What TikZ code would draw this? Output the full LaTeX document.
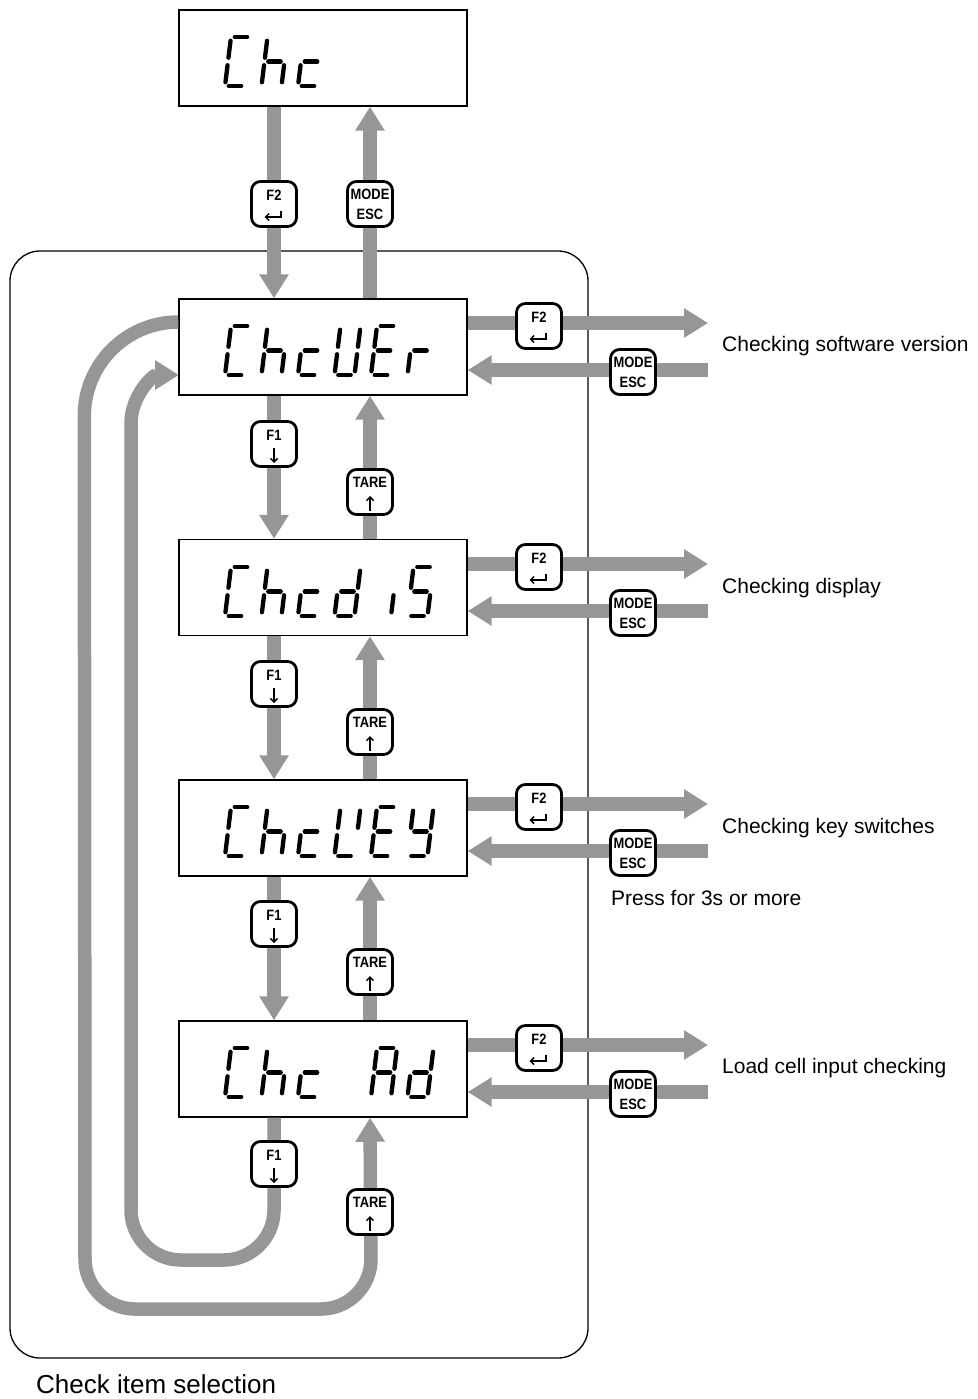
\documentclass[tikz,border=0pt]{standalone}
\usepackage{fontspec}
\setmainfont{Liberation Sans}
\usetikzlibrary{arrows.meta}
\definecolor{agray}{RGB}{150,150,150}
\tikzset{
  band/.style={draw=agray, line width=13.5pt},
  garrow/.style={band, -{Triangle[length=24pt,width=28pt]}},
  lcd/.style={draw=black, line width=1.4pt, fill=white, minimum width=288pt, minimum height=96pt, inner sep=0pt},
  keybox/.style={draw=black, line width=2.8pt, fill=white, rounded corners=9pt, minimum width=45pt, minimum height=45pt, inner sep=0pt},
  keytxt/.style={font=\fontsize{15}{15}\selectfont\bfseries, inner sep=0pt},
  keysym/.style={line width=1.5pt, -{Straight Barb[length=3.5pt,width=7pt]}},
  seg/.style={line width=4.3pt, line cap=round, shorten <=3.8pt, shorten >=3.8pt},
  lbl/.style={font=\fontsize{21}{25}\selectfont, anchor=base west, inner sep=0pt},
  sga/.style={insert path={(0,2)--(1,2)}},
  sgb/.style={insert path={(1,2)--(1,1)}},
  sgc/.style={insert path={(1,1)--(1,0)}},
  sgd/.style={insert path={(0,0)--(1,0)}},
  sge/.style={insert path={(0,0)--(0,1)}},
  sgf/.style={insert path={(0,1)--(0,2)}},
  sgg/.style={insert path={(0,1)--(1,1)}},
}
% seven-segment character: x of bottom-left, y of bottom (image coords), list of segments
\newcommand\lcdchar[3]{%
  \begin{scope}[shift={(#1,#2)},x={(20pt,0pt)},y={(3pt,24.5pt)}]
    \foreach \s in {#3}{\draw[seg,sg\s];}
  \end{scope}}
\newcommand\kt[1]{\scalebox{0.86}[1]{#1}}
\newcommand\keyEnter[2]{%
  \node[keybox] (#1) at (#2) {};
  \node[keytxt] (#1t) at ([yshift=8.5pt]#1.center) {\kt{F2}};
  \draw[keysym] ([shift={(7pt,-6.5pt)}]#1.center) -- ([shift={(7pt,-13pt)}]#1.center) -- ([shift={(-9.5pt,-13pt)}]#1.center);}
\newcommand\keyDown[2]{%
  \node[keybox] (#1) at (#2) {};
  \node[keytxt] (#1t) at ([yshift=9pt]#1.center) {\kt{F1}};
  \draw[keysym] ([yshift=-4pt]#1.center) -- ([yshift=-19pt]#1.center);}
\newcommand\keyUp[2]{%
  \node[keybox] (#1) at (#2) {};
  \node[keytxt] (#1t) at ([yshift=10pt]#1.center) {\kt{TARE}};
  \draw[keysym] ([yshift=-19pt]#1.center) -- ([yshift=-4pt]#1.center);}
\newcommand\keyMode[2]{%
  \node[keybox] (#1) at (#2) {};
  \node[keytxt] (#1t) at ([yshift=9.5pt]#1.center) {\kt{MODE}};
  \node[keytxt] (#1b) at ([yshift=-10pt]#1.center) {\kt{ESC}};}
\begin{document}
\begin{tikzpicture}[x=1pt,y=-1pt]
\useasboundingbox (0,0) rectangle (977,1399);
% frame
\node[draw=black, line width=1.3pt, rounded corners=30pt, minimum width=578pt, minimum height=1107pt, inner sep=0pt] (frame) at (299,804.5) {};
% display boxes
\node[lcd] (b0) at (323,58) {};
\node[lcd] (b1) at (323,347) {};
\node[lcd] (b2) at (323,587.5) {};
\node[lcd] (b3) at (323,828) {};
\node[lcd] (b4) at (323,1069) {};
\coordinate (lx) at (274,0);
\coordinate (rx) at (370,0);
% vertical arrows
\draw[garrow] (b0.south -| lx) -- (b1.north -| lx);
\draw[garrow] (b1.north -| rx) -- (b0.south -| rx);
\draw[garrow] (b1.south -| lx) -- (b2.north -| lx);
\draw[garrow] (b2.north -| rx) -- (b1.south -| rx);
\draw[garrow] (b2.south -| lx) -- (b3.north -| lx);
\draw[garrow] (b3.north -| rx) -- (b2.south -| rx);
\draw[garrow] (b3.south -| lx) -- (b4.north -| lx);
\draw[garrow] (b4.north -| rx) -- (b3.south -| rx);
% horizontal arrows
\coordinate (o1) at (708,323);  \coordinate (i1) at (708,370);
\coordinate (o2) at (708,564);  \coordinate (i2) at (708,611);
\coordinate (o3) at (708,804);  \coordinate (i3) at (708,851);
\coordinate (o4) at (708,1045); \coordinate (i4) at (708,1092);
\foreach \k in {1,2,3,4}{
  \draw[garrow] (b\k.east |- o\k) -- (o\k);
  \draw[garrow] (i\k) -- (b\k.east |- i\k);
}
% outer loop (TARE from ChcUEr wraps to Chc Ad)
\draw[garrow] ([yshift=25pt]b1.west) arc[start angle=90,end angle=180,radius=94pt]
  -- (85,1259) arc[start angle=180,end angle=270,radius=50pt]
  -- (321,1309) arc[start angle=270,end angle=360,radius=50pt]
  -- (b4.south -| rx);
% inner loop (F1 from Chc Ad wraps to ChcUEr)
\draw[garrow] (b4.south -| lx) -- (274,1210) arc[start angle=0,end angle=-90,radius=50pt]
  -- (181,1260) arc[start angle=270,end angle=180,radius=50pt]
  -- (131,423) arc[start angle=180,end angle=90,radius=48pt];
% keys
\keyEnter{k0a}{274,204}
\keyMode{k0b}{370,204}
\keyDown{d1}{274,444}  \keyUp{u1}{370,492}
\keyDown{d2}{274,684}  \keyUp{u2}{370,732}
\keyDown{d3}{274,924}  \keyUp{u3}{370,972}
\keyDown{d4}{274,1164} \keyUp{u4}{370,1212}
\keyEnter{e1}{539,326}  \keyMode{m1}{633,372}
\keyEnter{e2}{539,567}  \keyMode{m2}{633,613}
\keyEnter{e3}{539,807}  \keyMode{m3}{633,853}
\keyEnter{e4}{539,1048} \keyMode{m4}{633,1094}
% seven-segment texts
% Chc
\lcdchar{225}{86}{a,f,e,d}
\lcdchar{261.5}{86}{f,e,g,c}
\lcdchar{298}{86}{g,e,d}
% ChcUEr
\lcdchar{225}{375}{a,f,e,d}
\lcdchar{261.5}{375}{f,e,g,c}
\lcdchar{298}{375}{g,e,d}
\lcdchar{334.5}{375}{f,e,d,c,b}
\lcdchar{371}{375}{a,f,g,e,d}
\lcdchar{407.5}{375}{e,g}
% ChcdiS
\lcdchar{225}{616}{a,f,e,d}
\lcdchar{261.5}{616}{f,e,g,c}
\lcdchar{298}{616}{g,e,d}
\lcdchar{334.5}{616}{b,c,d,e,g}
\lcdchar{371}{616}{c}
\lcdchar{407.5}{616}{a,f,g,c,d}
% ChcKEY
\lcdchar{225}{856}{a,f,e,d}
\lcdchar{261.5}{856}{f,e,g,c}
\lcdchar{298}{856}{g,e,d}
\lcdchar{334.5}{856}{f,e,d,b}
\lcdchar{371}{856}{a,f,g,e,d}
\lcdchar{407.5}{856}{f,b,g,c,d}
% Chc Ad
\lcdchar{225}{1097}{a,f,e,d}
\lcdchar{261.5}{1097}{f,e,g,c}
\lcdchar{298}{1097}{g,e,d}
\lcdchar{371}{1097}{a,b,c,e,f,g}
\lcdchar{407.5}{1097}{b,c,d,e,g}
% labels
\node[lbl] (l1) at (722,351) {Checking software version};
\node[lbl] (l2) at (722,593) {Checking display};
\node[lbl] (l3) at (722,833) {Checking key switches};
\node[lbl] (l3b) at (611,905) {Press for 3s or more};
\node[lbl] (l4) at (722,1073) {Load cell input checking};
\node[lbl, font=\fontsize{26}{30}\selectfont] (l5) at (36,1393) {Check item selection};
\end{tikzpicture}
\end{document}
